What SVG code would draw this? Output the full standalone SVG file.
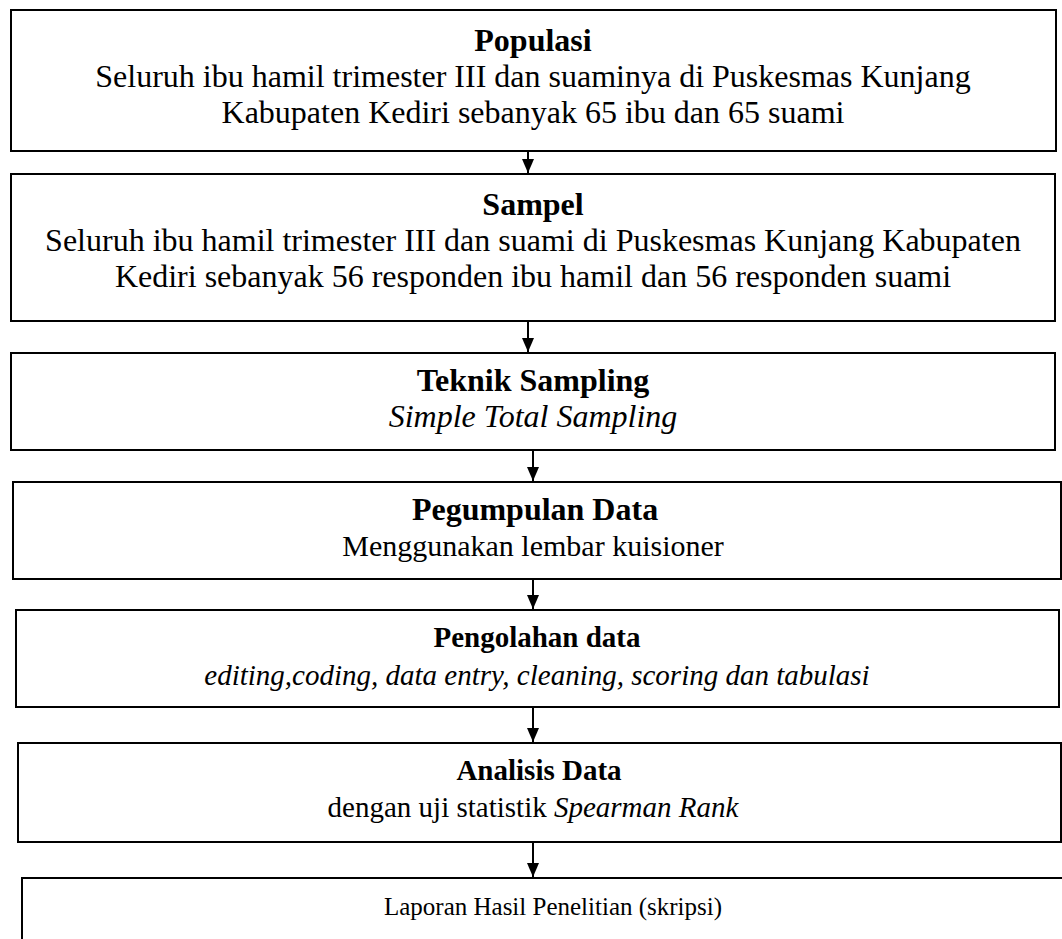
<svg xmlns="http://www.w3.org/2000/svg" width="1062" height="939" viewBox="0 0 1062 939">
<style>
.box{fill:#fff;stroke:#000;stroke-width:2}
.t{font-family:"Liberation Serif","Times New Roman",serif;fill:#000;text-anchor:middle}
.b{font-weight:bold}
.i{font-style:italic}
.s32{font-size:32px}
.s30{font-size:30px}
.s29{font-size:29px}
.s25{font-size:25px}
.ln{stroke:#000;stroke-width:2;fill:none}
</style>
<defs>
<marker id="ah" markerWidth="14" markerHeight="12" refX="14" refY="6" orient="auto" markerUnits="userSpaceOnUse" viewBox="0 0 14 12">
<path d="M0,0 L14,6 L0,12 Z" fill="#000"/>
</marker>
</defs>
<rect width="1062" height="939" fill="#fff"/>
<g id="connectors">
<line class="ln" x1="528" y1="151" x2="528" y2="173" marker-end="url(#ah)"/>
<line class="ln" x1="528" y1="321" x2="528" y2="352" marker-end="url(#ah)"/>
<line class="ln" x1="533" y1="450" x2="533" y2="481" marker-end="url(#ah)"/>
<line class="ln" x1="533" y1="579" x2="533" y2="609" marker-end="url(#ah)"/>
<line class="ln" x1="533" y1="707" x2="533" y2="742" marker-end="url(#ah)"/>
<line class="ln" x1="533" y1="842" x2="533" y2="877" marker-end="url(#ah)"/>
</g>
<g id="populasi">
<rect class="box" x="11" y="10" width="1045" height="141"/>
<text class="t b s32" x="533" y="51">Populasi</text>
<text class="t s32" x="533" y="87">Seluruh ibu hamil trimester III dan suaminya di Puskesmas Kunjang</text>
<text class="t s32" x="533" y="123">Kabupaten Kediri sebanyak 65 ibu dan 65 suami</text>
</g>
<g id="sampel">
<rect class="box" x="11" y="174" width="1044" height="147"/>
<text class="t b s32" x="533" y="215">Sampel</text>
<text class="t s32" x="533" y="251">Seluruh ibu hamil trimester III dan suami di Puskesmas Kunjang Kabupaten</text>
<text class="t s32" x="533" y="287">Kediri sebanyak 56 responden ibu hamil dan 56 responden suami</text>
</g>
<g id="teknik-sampling">
<rect class="box" x="11" y="353" width="1044" height="97"/>
<text class="t b s32" x="533" y="391">Teknik Sampling</text>
<text class="t i s32" x="533" y="427">Simple Total Sampling</text>
</g>
<g id="pengumpulan-data">
<rect class="box" x="13" y="482" width="1048" height="97"/>
<text class="t b s32" x="535" y="520">Pegumpulan Data</text>
<text class="t s30" x="533" y="556">Menggunakan lembar kuisioner</text>
</g>
<g id="pengolahan-data">
<rect class="box" x="16" y="610" width="1043" height="97"/>
<text class="t b s29" x="537" y="647">Pengolahan data</text>
<text class="t i s29" x="537" y="685">editing,coding, data entry, cleaning, scoring dan tabulasi</text>
</g>
<g id="analisis-data">
<rect class="box" x="18" y="743" width="1043" height="99"/>
<text class="t b s29" x="539" y="780">Analisis Data</text>
<text class="t s29" x="533" y="817">dengan uji statistik <tspan class="i">Spearman Rank</tspan></text>
</g>
<g id="laporan">
<rect class="box" x="22" y="878" width="1050" height="80"/>
<text class="t s25" x="553" y="915">Laporan Hasil Penelitian (skripsi)</text>
</g>
</svg>
